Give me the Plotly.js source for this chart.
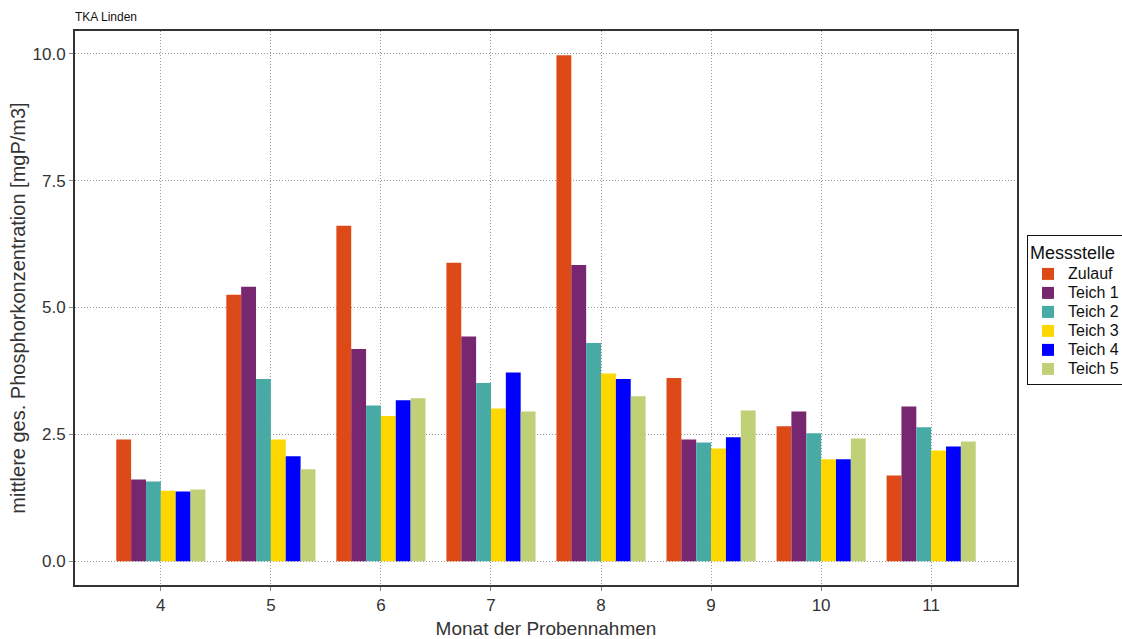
<!DOCTYPE html>
<html>
<head>
<meta charset="utf-8">
<script src="https://cdn.plot.ly/plotly-3.0.1.min.js"></script>
<style>body{margin:0;padding:0;background:#fff}#chart{width:1122px;height:639px}</style>
</head>
<body>
<div id="chart"></div>
<script>
const months = ["4", "5", "6", "7", "8", "9", "10", "11"];
const seriesNames = ["Zulauf", "Teich 1", "Teich 2", "Teich 3", "Teich 4", "Teich 5"];
const zulauf = [2.40, 5.25, 6.61, 5.88, 9.97, 3.61, 2.66, 1.69];
const teich1 = [1.61, 5.41, 4.18, 4.43, 5.84, 2.40, 2.95, 3.05];
const teich2 = [1.57, 3.59, 3.07, 3.51, 4.30, 2.34, 2.52, 2.64];
const teich3 = [1.39, 2.40, 2.86, 3.01, 3.70, 2.22, 2.01, 2.18];
const teich4 = [1.375, 2.07, 3.17, 3.72, 3.59, 2.44, 2.01, 2.26];
const teich5 = [1.41, 1.81, 3.21, 2.95, 3.25, 2.97, 2.42, 2.36];
const colors = ["#DE4A17", "#772670", "#48AAA5", "#FFD700", "#0000FF", "#BFD077"];
const yTicks = [0, 2.5, 5, 7.5, 10];

const allValues = [zulauf, teich1, teich2, teich3, teich4, teich5];
const traces = allValues.map((vals, i) => ({
  type: "bar",
  name: '<span style="font-size:16px">' + seriesNames[i] + '</span>',
  x: months,
  y: vals,
  marker: {color: colors[i], line: {width: 0}},
  hoverinfo: "x+y"
}));

const font = "Liberation Sans, Arial, sans-serif";
const layout = {
  width: 1122, height: 639,
  margin: {l: 75, r: 105, t: 31, b: 54, autoexpand: false},
  paper_bgcolor: "#fff", plot_bgcolor: "#fff",
  barmode: "group", bargap: 0.19, bargroupgap: 0,
  font: {family: font, color: "#222"},
  title: {text: "TKA Linden", font: {size: 12, color: "#111", family: font}, x: 75/1122, xanchor: "left", y: 1 - 17/639, yanchor: "middle"},
  xaxis: {
    type: "category", range: [-0.78, 7.78],
    showline: true, mirror: true, linecolor: "#333", linewidth: 2,
    showgrid: true, gridcolor: "#999", griddash: "1px,2px", gridwidth: 1,
    ticks: "outside", ticklen: 4, tickcolor: "#888",
    tickfont: {size: 17, color: "#333", family: font},
    title: {text: "Monat der Probennahmen", font: {size: 19, color: "#333", family: font}, standoff: 8},
    zeroline: false
  },
  yaxis: {
    range: [-0.47, 10.45],
    tickvals: yTicks, tickformat: ".1f",
    showline: true, mirror: true, linecolor: "#333", linewidth: 2,
    showgrid: true, gridcolor: "#999", griddash: "1px,2px", gridwidth: 1,
    ticks: "outside", ticklen: 4, tickcolor: "#888",
    tickfont: {size: 17, color: "#333", family: font},
    title: {text: "mittlere ges. Phosphorkonzentration [mgP/m3]", font: {size: 20, color: "#333", family: font}, standoff: 2},
    zeroline: false
  },
  legend: {
    x: (1027 - 75) / 942, xanchor: "left",
    y: (585 - 235) / 554, yanchor: "top",
    bordercolor: "#111", borderwidth: 1, bgcolor: "#fff",
    font: {size: 12, color: "#111", family: font},
    title: {text: "Messstelle", font: {size: 18, color: "#111", family: font}},
    tracegroupgap: 0, itemwidth: 30
  },
  showlegend: true
};

Plotly.newPlot("chart", traces, layout, {displayModeBar: false, staticPlot: true});
</script>
</body>
</html>
